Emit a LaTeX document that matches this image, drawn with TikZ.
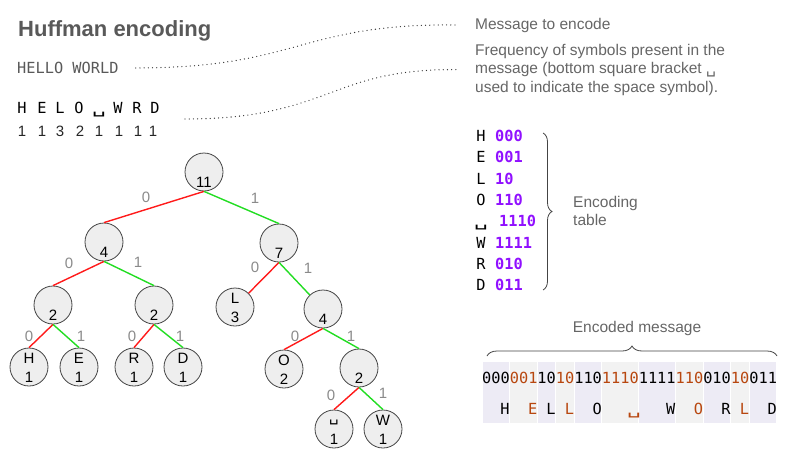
\documentclass[tikz,border=0pt]{standalone}
\usepackage{fontspec}
\setmainfont{Liberation Sans}
\setmonofont{DejaVu Sans Mono}
\newfontfamily\dvs{DejaVu Sans}
\usetikzlibrary{decorations.pathreplacing}
\definecolor{txtgray}{HTML}{666666}
\definecolor{ttlgray}{HTML}{595959}
\definecolor{lblgray}{HTML}{8A8A8A}
\definecolor{nodefill}{HTML}{EEEEEE}
\definecolor{nodeline}{HTML}{444444}
\definecolor{edgered}{HTML}{FF1A1A}
\definecolor{edgegreen}{HTML}{22DD22}
\definecolor{codepurple}{HTML}{9010FF}
\definecolor{rust}{HTML}{B8470F}
\definecolor{lav}{HTML}{EDEBF5}
\definecolor{gry}{HTML}{F2F2F2}
\newcommand\szA{\fontsize{15}{18}\selectfont}
\newcommand\szB{\fontsize{15.5}{18}\selectfont}
\newcommand\szM{\fontsize{15.3}{18}\selectfont}
\newcommand\wsp{\scalebox{1.5}[1]{␣}}
\begin{document}
\begin{tikzpicture}[x=1pt,y=-1pt,
  txt/.style={inner sep=0pt, anchor=base west, font=\szB, text=txtgray},
  tn/.style={circle, draw=nodeline, fill=nodefill, minimum size=38pt, inner sep=0pt, line width=0.8pt},
  tnum/.style={inner sep=0pt, font=\szA, text=black},
  elab/.style={inner sep=0pt, font=\szA, text=lblgray},
  ezero/.style={draw=edgered, line width=1.4pt},
  eone/.style={draw=edgegreen, line width=1.4pt},
  dotline/.style={draw=black!80, line width=1.3pt, line cap=round, dash pattern=on 0pt off 4.2pt},
  bracestyle/.style={draw=nodeline, line width=0.8pt, decorate, decoration={brace, amplitude=9pt}},
]
\useasboundingbox (0,0) rectangle (800,450);

% title and message
\node[inner sep=0pt, anchor=base west, font=\bfseries\fontsize{22}{24}\selectfont, text=ttlgray] (title) at (18,36) {Huffman encoding};
\node[inner sep=0pt, anchor=base west, font=\ttfamily\szM, text=ttlgray] (hw) at (17,73.5) {HELLO WORLD};

\foreach \x/\c/\n in {22/H/h,42/E/e,60/L/l,79/O/o,99/\wsp/sp,118/W/w,137/R/r,155/D/d}
  \node[inner sep=0pt, anchor=base, font=\ttfamily\szM] (f\n) at (\x,113.5) {\c};
\foreach \x/\c/\n in {22/1/h,42/1/e,60/3/l,80/2/o,99/1/sp,119/1/w,138/1/r,153/1/d}
  \node[inner sep=0pt, anchor=base, font=\fontsize{15}{16}\selectfont, text=black!85] (q\n) at (\x,136.7) {\c};
\coordinate (freq) at (185,119);

% right side explanations
\node[txt] (msg) at (475,29) {Message to encode};
\node[txt] (msga) at (475,55) {Frequency of symbols present in the};
\node[txt] (msgb) at (475,73.5) {message (bottom square bracket {\dvs ␣}};
\node[txt] (msgc) at (475,92) {used to indicate the space symbol).};

\draw[dotline] ([xshift=17pt]hw.east) .. controls (300,68) and (300,23) .. ([xshift=-17pt]msg.west);
\draw[dotline] (freq) .. controls (330,119) and (330,68) .. ([xshift=-17pt]msgb.west);

% encoding table
\foreach \i/\c/\code/\n/\xo in {0/H/000/h/495,1/E/001/e/495,2/L/10/l/495,3/O/110/o/495,4/\wsp/1110/sp/499,5/W/1111/w/495,6/R/010/r/495,7/D/011/d/495} {
  \node[inner sep=0pt, anchor=base, font=\ttfamily\szM] (t\n) at (481,{141.5+21.3*\i}) {\c};
  \node[inner sep=0pt, anchor=base west, font=\ttfamily\bfseries\szM, text=codepurple] (c\n) at (\xo,{141.5+21.3*\i}) {\code};
}
\draw[bracestyle] (543,133) -- (543,290);
\node[txt] (enca) at (573,207) {Encoding};
\node[txt] (encb) at (573,225) {table};

% encoded message
\foreach \a/\b/\cc in {0/3/lav,3/6/gry,6/8/lav,8/10/gry,10/13/lav,13/17/gry,17/21/lav,21/24/gry,24/27/lav,27/29/gry,29/32/lav}
  \fill[\cc] ({482+9.21*\a+0.5},362) rectangle ({482+9.21*\b-0.5},423);
\node[inner sep=0pt, anchor=base west, font=\ttfamily\szM] (bits) at (482,383.5)
  {000\textcolor{rust}{001}10\textcolor{rust}{10}110\textcolor{rust}{1110}1111\textcolor{rust}{110}010\textcolor{rust}{10}011};
\foreach \i/\c/\cc/\n in {2/H/black/a,5/E/rust/b,7/L/black/c,9/L/rust/d,12/O/black/e,16/\wsp/rust/f,20/W/black/g,23/O/rust/h,26/R/black/i,28/L/rust/j,31/D/black/k}
  \node[inner sep=0pt, anchor=base, font=\ttfamily\szM, text=\cc] (m\n) at ({482+9.21*(\i+0.5)},414) {\c};
\draw[bracestyle, decoration={brace, amplitude=10pt}] (487,356) -- (777,356);
\node[inner sep=0pt, anchor=base, font=\szB, text=txtgray] (encmsg) at (637,332) {Encoded message};

% tree nodes
\node[tn] (r) at (204,172) {};   \node[tnum] (rt) at (204,182) {11};
\node[tn] (a) at (104,242) {};   \node[tnum] (at) at (104,252) {4};
\node[tn] (b) at (279,243) {};   \node[tnum] (bt) at (279,253) {7};
\node[tn] (aa) at (53,305) {};   \node[tnum] (aat) at (53,315) {2};
\node[tn] (ab) at (154,305) {};  \node[tnum] (abt) at (154,315) {2};
\node[tn] (L) at (235,307) {};   \node[tnum] (Lc) at (235,298) {L}; \node[tnum] (Ln) at (235,317) {3};
\node[tn] (bb) at (323,309) {};  \node[tnum] (bbt) at (323,319) {4};
\node[tn] (H) at (29,367) {};    \node[tnum] (Hc) at (29,358) {H}; \node[tnum] (Hn) at (29,377) {1};
\node[tn] (E) at (79,367) {};    \node[tnum] (Ec) at (79,358) {E}; \node[tnum] (En) at (79,377) {1};
\node[tn] (R) at (134,367) {};   \node[tnum] (Rc) at (134,358) {R}; \node[tnum] (Rn) at (134,377) {1};
\node[tn] (D) at (183,367) {};   \node[tnum] (Dc) at (183,358) {D}; \node[tnum] (Dn) at (183,377) {1};
\node[tn] (O) at (284,369) {};   \node[tnum] (Oc) at (284,360) {O}; \node[tnum] (On) at (284,379) {2};
\node[tn] (bbb) at (359,368) {}; \node[tnum] (bbbt) at (359,378) {2};
\node[tn] (S) at (334,429) {};   \node[tnum, font=\dvs\szA] (Sc) at (334,422) {␣}; \node[tnum] (Sn) at (334,439) {1};
\node[tn] (W) at (383,429) {};   \node[tnum] (Wc) at (383,420) {W}; \node[tnum] (Wn) at (383,439) {1};

% tree edges
\draw[ezero] (r.south) -- (a.north);
\draw[eone] (r.south) -- (b.north);
\draw[ezero] (a.south) -- (aa.north);
\draw[eone] (a.south) -- (ab.north);
\draw[ezero] (aa.south) -- (H.north);
\draw[eone] (aa.south) -- (E.north);
\draw[ezero] (ab.south) -- (R.north);
\draw[eone] (ab.south) -- (D.north);
\draw[ezero] (b.south) -- (L);
\draw[eone] (b.south) -- (bb);
\draw[ezero] (bb.south) -- (O.north);
\draw[eone] (bb.south) -- (bbb.north);
\draw[ezero] (bbb.south) -- (S.north);
\draw[eone] (bbb.south) -- (W.north);

% edge labels
\foreach \x/\y/\t/\n in {146/197/0/l1,255/198/1/l2,69/263/0/l3,138/262/1/l4,29/336/0/l5,81/336/1/l6,132/336/0/l7,180/336/1/l8,255/267/0/l9,308/268/1/l10,295/336/0/l11,351/336/1/l12,331/395/0/l13,383/393/1/l14}
  \node[elab] (\n) at (\x,\y) {\t};
\end{tikzpicture}
\end{document}
